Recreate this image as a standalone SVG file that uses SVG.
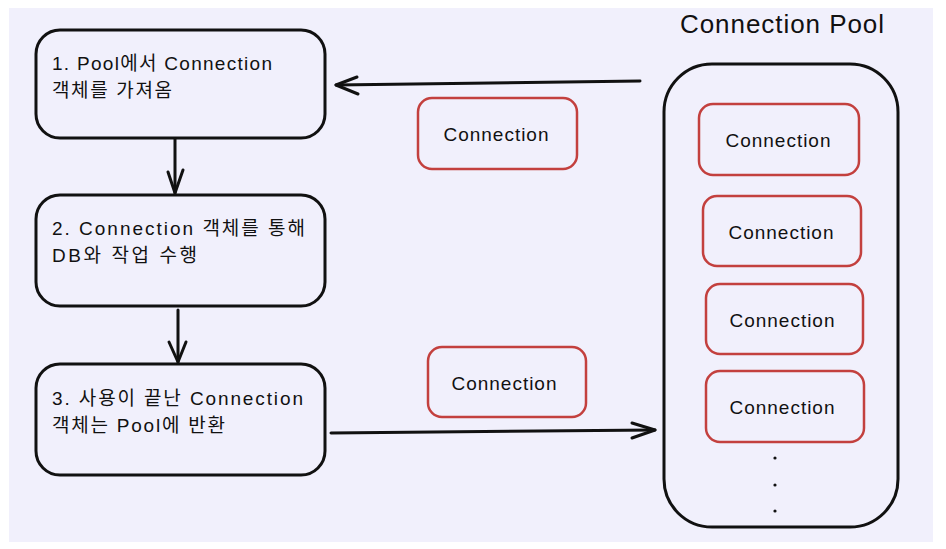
<svg xmlns="http://www.w3.org/2000/svg" width="946" height="549" viewBox="0 0 946 549">
<defs>
<style>
.step{fill:none;stroke:#111;stroke-width:3}
.conn{fill:none;stroke:#c3403e;stroke-width:2.5}
.pool{fill:none;stroke:#111;stroke-width:3}
.t{font-family:"Liberation Sans","Noto Sans CJK KR",sans-serif;font-size:19px;fill:#111}
.c{font-family:"Liberation Sans","Noto Sans CJK KR",sans-serif;font-size:19px;fill:#111;text-anchor:middle}
.title{font-family:"Liberation Sans","Noto Sans CJK KR",sans-serif;font-size:26px;fill:#111}
.edge{fill:none;stroke:#111;stroke-width:3;stroke-linecap:round;stroke-linejoin:round}
</style>
</defs>
<rect x="0" y="0" width="946" height="549" fill="#ffffff"/>
<rect x="9" y="8" width="924" height="534" fill="#f1f0fc"/>

<g id="step1">
<rect class="step" x="36" y="30" width="289" height="108" rx="24"/>
<text class="t" x="52" y="70" textLength="220" lengthAdjust="spacing">1. Pool에서 Connection</text>
<text class="t" x="52" y="97" textLength="120" lengthAdjust="spacing">객체를 가져옴</text>
</g>
<g id="step2">
<rect class="step" x="36" y="195" width="289" height="111" rx="24"/>
<text class="t" x="52" y="235" textLength="253" lengthAdjust="spacing">2. Connection 객체를 통해</text>
<text class="t" x="52" y="262" textLength="145" lengthAdjust="spacing">DB와 작업 수행</text>
</g>
<g id="step3">
<rect class="step" x="36" y="364" width="289" height="111" rx="24"/>
<text class="t" x="52" y="405" textLength="251" lengthAdjust="spacing">3. 사용이 끝난 Connection</text>
<text class="t" x="52" y="432" textLength="173" lengthAdjust="spacing">객체는 Pool에 반환</text>
</g>

<g id="pool">
<text class="title" x="680" y="33" textLength="204" lengthAdjust="spacing">Connection Pool</text>
<rect class="pool" x="664" y="64" width="234" height="463" rx="48"/>
</g>
<g id="pool-conn1">
<rect class="conn" x="699" y="104" width="160" height="71" rx="14"/>
<text class="c" x="778" y="147" textLength="105" lengthAdjust="spacing">Connection</text>
</g>
<g id="pool-conn2">
<rect class="conn" x="703" y="196" width="158" height="70" rx="14"/>
<text class="c" x="781" y="239" textLength="105" lengthAdjust="spacing">Connection</text>
</g>
<g id="pool-conn3">
<rect class="conn" x="706" y="284" width="157" height="70" rx="14"/>
<text class="c" x="782" y="327" textLength="105" lengthAdjust="spacing">Connection</text>
</g>
<g id="pool-conn4">
<rect class="conn" x="706" y="371" width="158" height="71" rx="14"/>
<text class="c" x="782" y="414" textLength="105" lengthAdjust="spacing">Connection</text>
</g>
<g id="dots" fill="#111">
<circle cx="775" cy="458" r="1.6"/>
<circle cx="775" cy="485" r="1.6"/>
<circle cx="775" cy="511" r="1.6"/>
</g>

<g id="conn-out">
<rect class="conn" x="418" y="98" width="159" height="71" rx="14"/>
<text class="c" x="496" y="141" textLength="105" lengthAdjust="spacing">Connection</text>
</g>
<g id="conn-in">
<rect class="conn" x="428" y="347" width="158" height="70" rx="14"/>
<text class="c" x="504" y="390" textLength="105" lengthAdjust="spacing">Connection</text>
</g>

<g id="connectors">
<path class="edge" d="M640 81 L336 85"/>
<path class="edge" d="M357 77 L336 85 L358 94"/>
<path class="edge" d="M175 139 L175 193"/>
<path class="edge" d="M168 172 L175 193 L183 170"/>
<path class="edge" d="M178 310 L178 362"/>
<path class="edge" d="M169 342 L178 362 L186 342"/>
<path class="edge" d="M331 433 L655 430"/>
<path class="edge" d="M632 423 L655 430 L632 438"/>
</g>
</svg>
